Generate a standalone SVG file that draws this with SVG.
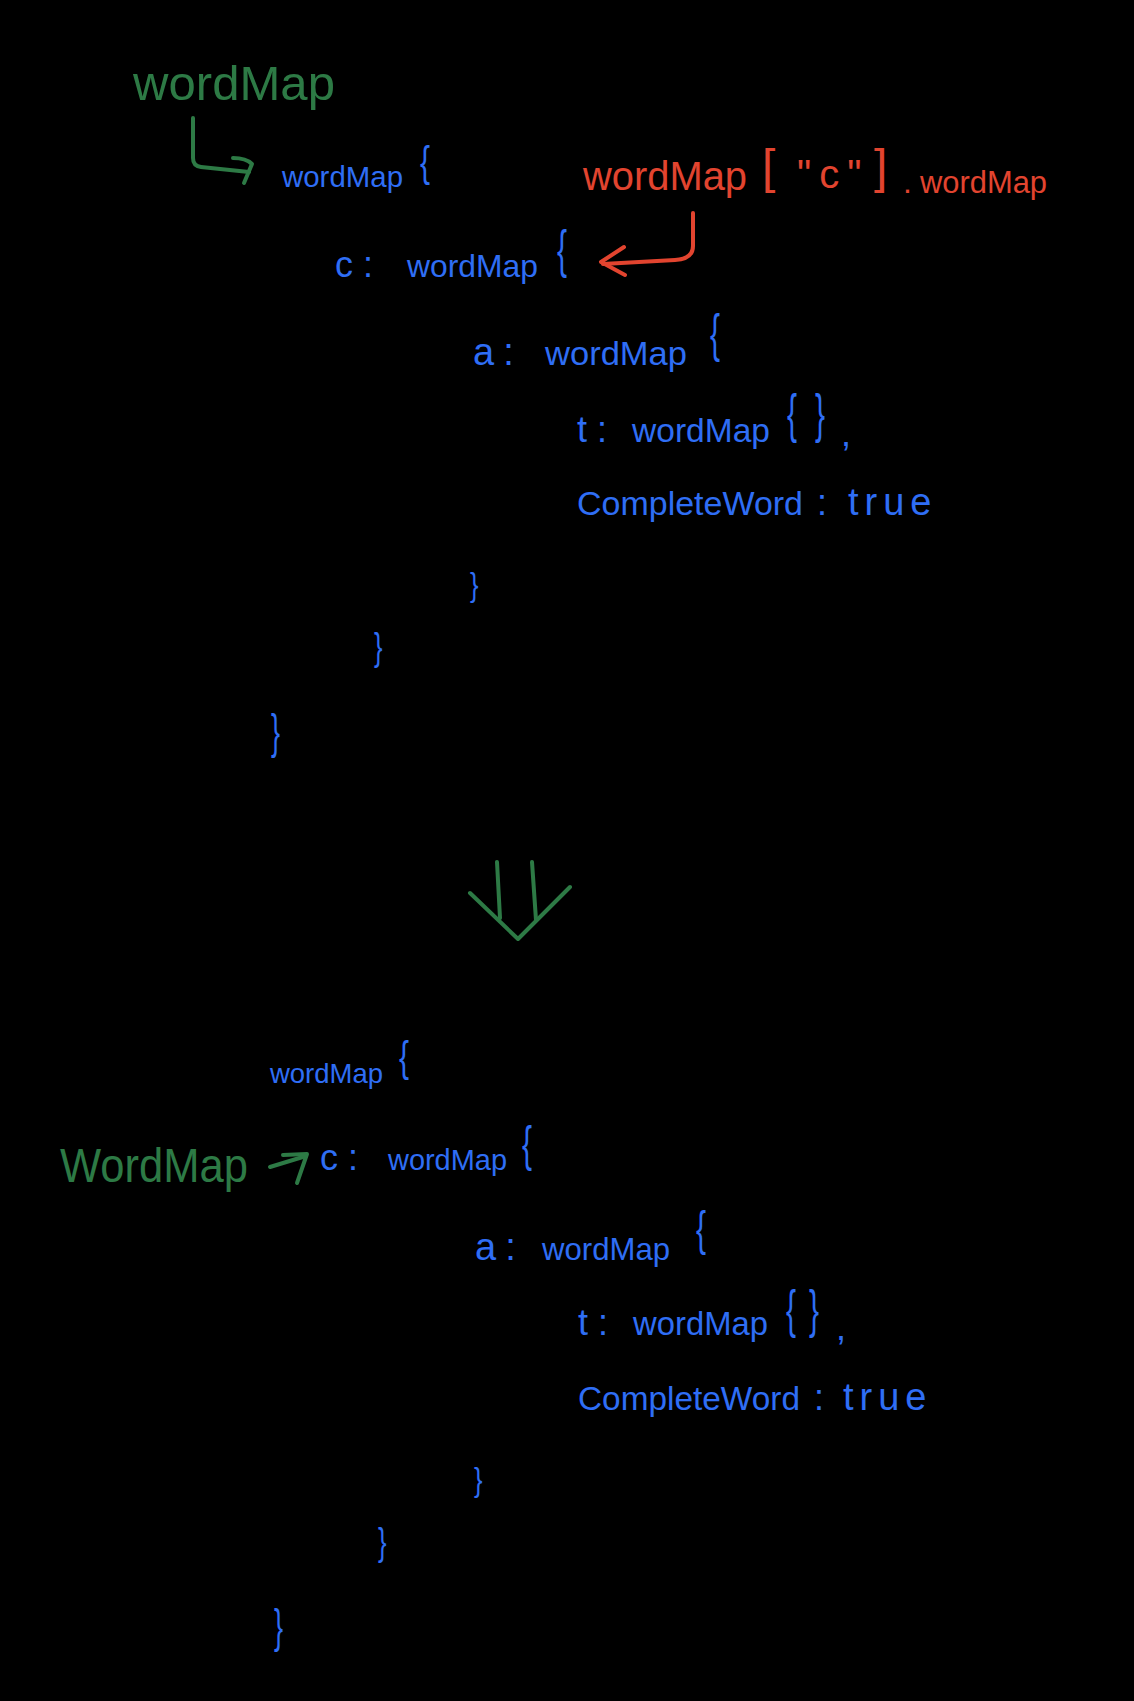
<svg xmlns="http://www.w3.org/2000/svg" width="1134" height="1701" viewBox="0 0 1134 1701">
<defs>
<style>
text{font-family:"Liberation Sans","DejaVu Sans",sans-serif}
.b{fill:#2f6ef5}
.g{fill:#2d7a45}
.r{fill:#e2442f}
.br{font-size:30px}
.ln{fill:none;stroke-width:4;stroke-linecap:round;stroke-linejoin:round}
.lg{stroke:#2d7a45}
.lr{stroke:#e2442f}
</style>
</defs>
<rect width="1134" height="1701" fill="#000"/>

<g id="top-label">
<text class="g" x="133" y="100" font-size="49" textLength="202" lengthAdjust="spacingAndGlyphs">wordMap</text>
</g>
<g id="top-red-label">
<text class="r" x="583" y="190" font-size="40" textLength="164" lengthAdjust="spacingAndGlyphs">wordMap</text>
<text class="r" x="762" y="183" font-size="48">[</text>
<text class="r" x="797" y="188" font-size="40" letter-spacing="8">"c"</text>
<text class="r" x="874" y="183" font-size="48">]</text>
<text class="r" x="903" y="193" font-size="32">.</text>
<text class="r" x="920" y="193" font-size="31" textLength="127" lengthAdjust="spacingAndGlyphs">wordMap</text>
</g>

<g id="tree-before">
<text class="b" x="282" y="187" font-size="30" textLength="121" lengthAdjust="spacingAndGlyphs">wordMap</text>
<text class="b br" transform="translate(420,176) scale(1,1.42)">{</text>

<text class="b" x="335" y="277" font-size="36" letter-spacing="10">c:</text>
<text class="b" x="407" y="277" font-size="32" textLength="131" lengthAdjust="spacingAndGlyphs">wordMap</text>
<text class="b br" transform="translate(557,267) scale(1,1.7)">{</text>

<text class="b" x="473" y="365" font-size="38" letter-spacing="9">a:</text>
<text class="b" x="545" y="365" font-size="34" textLength="142" lengthAdjust="spacingAndGlyphs">wordMap</text>
<text class="b br" transform="translate(710,351) scale(1,1.74)">{</text>

<text class="b" x="577" y="442" font-size="36" letter-spacing="10">t:</text>
<text class="b" x="632" y="442" font-size="34" textLength="138" lengthAdjust="spacingAndGlyphs">wordMap</text>
<text class="b br" transform="translate(787,432) scale(1,1.77)">{</text>
<text class="b br" transform="translate(815,432) scale(1,1.77)">}</text>
<text class="b" x="841" y="446" font-size="36">,</text>

<text class="b" x="577" y="515" font-size="34" textLength="226" lengthAdjust="spacingAndGlyphs">CompleteWord</text>
<text class="b" x="817" y="515" font-size="36">:</text>
<text class="b" x="848" y="515" font-size="38" letter-spacing="6">true</text>

<text class="b br" transform="translate(470,596) scale(0.85,1.1)">}</text>
<text class="b br" transform="translate(374,660) scale(0.85,1.28)">}</text>
<text class="b br" transform="translate(271,748) scale(0.9,1.6)">}</text>
</g>

<g id="tree-after">
<text class="b" x="270" y="1083" font-size="28" textLength="113" lengthAdjust="spacingAndGlyphs">wordMap</text>
<text class="b br" transform="translate(399,1071) scale(1,1.42)">{</text>

<text class="b" x="320" y="1170" font-size="36" letter-spacing="10">c:</text>
<text class="b" x="388" y="1170" font-size="30" textLength="119" lengthAdjust="spacingAndGlyphs">wordMap</text>
<text class="b br" transform="translate(522,1161) scale(1,1.67)">{</text>

<text class="b" x="475" y="1260" font-size="38" letter-spacing="9">a:</text>
<text class="b" x="542" y="1260" font-size="32" textLength="128" lengthAdjust="spacingAndGlyphs">wordMap</text>
<text class="b br" transform="translate(696,1245) scale(1,1.6)">{</text>

<text class="b" x="578" y="1335" font-size="36" letter-spacing="10">t:</text>
<text class="b" x="633" y="1335" font-size="33" textLength="135" lengthAdjust="spacingAndGlyphs">wordMap</text>
<text class="b br" transform="translate(786,1327) scale(1,1.7)">{</text>
<text class="b br" transform="translate(809,1327) scale(1,1.7)">}</text>
<text class="b" x="836" y="1340" font-size="36">,</text>

<text class="b" x="578" y="1410" font-size="33" textLength="222" lengthAdjust="spacingAndGlyphs">CompleteWord</text>
<text class="b" x="814" y="1410" font-size="36">:</text>
<text class="b" x="843" y="1410" font-size="38" letter-spacing="6">true</text>

<text class="b br" transform="translate(474,1491) scale(0.85,1.1)">}</text>
<text class="b br" transform="translate(378,1555) scale(0.85,1.28)">}</text>
<text class="b br" transform="translate(274,1642) scale(0.9,1.56)">}</text>
</g>

<g id="bottom-label">
<text class="g" x="60" y="1182" font-size="48" textLength="188" lengthAdjust="spacingAndGlyphs">WordMap</text>
</g>

<g id="connectors">
<path class="ln lg" d="M193,118 L193,158 Q193,166 201,167 L249,172"/>
<path class="ln lg" d="M233,158 Q246,158 252,164 L244,183"/>
<path class="ln lr" d="M693,213 L693,246 Q693,259 675,260 L603,264"/>
<path class="ln lr" d="M624,247 L601,262 L625,275"/>
<path class="ln lg" d="M497,862 L500,918"/>
<path class="ln lg" d="M532,862 L536,920"/>
<path class="ln lg" d="M470,893 L518,939 L570,887"/>
<path class="ln lg" d="M270,1167 L306,1156"/>
<path class="ln lg" d="M283,1155 L307,1154 L297,1183"/>
</g>
</svg>
